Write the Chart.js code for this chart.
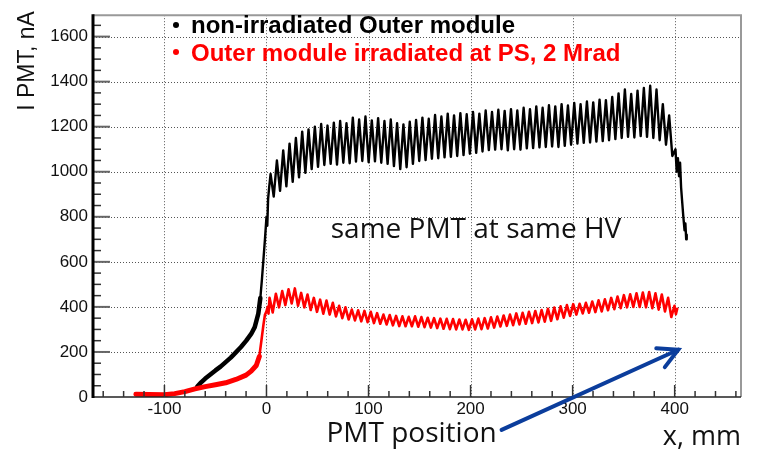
<!DOCTYPE html>
<html>
<head>
<meta charset="utf-8">
<script src="https://cdn.jsdelivr.net/npm/chart.js@4.4.1/dist/chart.umd.min.js"></script>
<style>
  body { margin: 0; background: #fff; }
  #wrap { width: 757px; height: 449px; position: relative; }
</style>
</head>
<body>
<div id="wrap"><canvas id="chart"></canvas></div>
<script>
// ---- data (x in mm, I in nA) ----
const xTicks = [-100, 0, 100, 200, 300, 400];
const yTicks = [0, 200, 400, 600, 800, 1000, 1200, 1400, 1600];

const seriesNames = ["non-irradiated Outer module", "Outer module irradiated at PS, 2 Mrad"];

// sampling step of the oscillating plateau (peak / trough alternate)
const plateauStep = 3.1;

// black: non-irradiated
const blackRiseX = [-68, -64, -60, -55, -50, -45, -40, -35, -30, -25, -20, -15, -11.5, -8, -6, -4.5, -3, -1.5, 0, 0.8, 1.6, 2.6];
const blackRiseY = [45, 65, 82, 100, 118, 135, 155, 175, 198, 222, 249, 280, 310, 370, 440, 520, 610, 700, 800, 760, 880, 930];
const blackPlateauStart = 4.0;
const blackPlateauY = [
  990, 890, 1050, 915, 1095, 935, 1125, 955, 1150, 975,
  1178, 995, 1188, 1012, 1200, 1022, 1212, 1030, 1205, 1035,
  1218, 1032, 1225, 1040, 1215, 1038, 1240, 1045, 1232, 1048,
  1245, 1042, 1228, 1046, 1238, 1040, 1225, 1035, 1232, 1025,
  1215, 1012, 1210, 1020, 1222, 1035, 1230, 1048, 1240, 1052,
  1235, 1058, 1252, 1060, 1245, 1064, 1258, 1066, 1250, 1070,
  1260, 1074, 1255, 1080, 1265, 1084, 1258, 1090, 1272, 1096,
  1265, 1098, 1275, 1100, 1270, 1095, 1278, 1100, 1272, 1098,
  1284, 1104, 1278, 1105, 1290, 1108, 1284, 1110, 1295, 1112,
  1290, 1110, 1300, 1115, 1294, 1120, 1305, 1125, 1300, 1128,
  1312, 1130, 1308, 1134, 1320, 1136, 1318, 1140, 1332, 1145,
  1348, 1150, 1365, 1155, 1345, 1152, 1360, 1158, 1372, 1155,
  1382, 1150, 1365, 1140, 1300, 1120, 1250, 1070, 1100
];
const blackTailX = [402, 403.2, 404.3, 405.3, 406.3, 407.3, 408.5, 409.7, 410.5, 411.3, 411.8];
const blackTailY = [1000, 1060, 980, 1040, 930, 870, 800, 740, 770, 700, 720];

// red: irradiated at PS
const redRiseX = [-128, -115, -100, -90, -80, -70, -60, -50, -40, -30, -20, -15, -10, -7, -5, -3, -1.5, 0, 1.2, 2];
const redRiseY = [12, 11, 10, 15, 24, 36, 46, 54, 63, 78, 97, 115, 140, 180, 249, 320, 365, 380, 400, 370];
const redPlateauStart = 3.0;
const redPlateauY = [
  440, 375, 458, 398, 470, 408, 478, 415, 482, 405,
  462, 398, 455, 386, 440, 378, 432, 370, 428, 366,
  418, 358, 405, 350, 398, 344, 388, 340, 385, 336,
  382, 332, 378, 328, 372, 325, 366, 322, 364, 318,
  360, 315, 358, 314, 356, 314, 358, 312, 355, 310,
  352, 308, 350, 306, 348, 303, 347, 301, 346, 300,
  344, 300, 343, 298, 345, 300, 348, 301, 350, 304,
  354, 308, 357, 313, 362, 316, 366, 319, 371, 322,
  374, 325, 378, 328, 382, 331, 386, 334, 392, 338,
  397, 345, 403, 352, 408, 360, 412, 366, 414, 371,
  418, 374, 424, 377, 429, 380, 434, 385, 440, 390,
  446, 394, 452, 398, 456, 400, 460, 400, 464, 398,
  466, 394, 460, 388, 455, 380, 440, 355, 405
];
const redTailX = [401.2, 402.5];
const redTailY = [368, 392];

function buildPoints(riseX, riseY, start, plateauY, tailX, tailY) {
  const pts = riseX.map((x, i) => ({ x, y: riseY[i] }));
  plateauY.forEach((y, i) => pts.push({ x: start + plateauStep * i, y }));
  tailX.forEach((x, i) => pts.push({ x, y: tailY[i] }));
  return pts;
}

// the noisy rising edge shows up as a thicker band
const noisyWidth = (thin, thick) => c => (c.p1.parsed.x < -5 ? thick : thin);

const FONT = "'Liberation Sans', Arial, Helvetica, sans-serif";
const TEXT_FONT = "'Open Sans', 'Noto Sans', sans-serif";

// grid, frame, inward ticks, legend and annotations, ROOT style
const rootStyle = {
  id: 'rootStyle',
  beforeDatasetsDraw(chart) {
    const { ctx, chartArea: a, scales: { x, y } } = chart;
    ctx.save();
    ctx.strokeStyle = '#555';
    ctx.lineWidth = 1;
    ctx.setLineDash([1, 2]);
    xTicks.forEach(v => {
      const px = Math.round(x.getPixelForValue(v)) + 0.5;
      ctx.beginPath(); ctx.moveTo(px, a.top); ctx.lineTo(px, a.bottom); ctx.stroke();
    });
    yTicks.forEach(v => {
      if (v === 0) return;
      const py = Math.round(y.getPixelForValue(v)) + 0.5;
      ctx.beginPath(); ctx.moveTo(a.left, py); ctx.lineTo(a.right, py); ctx.stroke();
    });
    ctx.restore();
  },
  afterDatasetsDraw(chart) {
    const { ctx, chartArea: a, scales: { x, y } } = chart;
    ctx.save();

    // frame
    ctx.strokeStyle = '#999';
    ctx.lineWidth = 2;
    ctx.beginPath();
    ctx.moveTo(a.left, a.top); ctx.lineTo(a.right, a.top); ctx.lineTo(a.right, a.bottom);
    ctx.stroke();
    ctx.strokeStyle = '#222';
    ctx.lineWidth = 1.5;
    ctx.beginPath(); ctx.moveTo(a.left, a.bottom); ctx.lineTo(a.right, a.bottom); ctx.stroke();

    // ticks (inside the frame)
    ctx.strokeStyle = '#333';
    ctx.lineWidth = 1.5;
    for (let v = -160; v <= 460; v += 20) {
      const px = x.getPixelForValue(v);
      if (px < a.left + 2 || px > a.right - 2) continue;
      const len = v % 100 === 0 ? 12 : 6;
      ctx.beginPath(); ctx.moveTo(px, a.bottom); ctx.lineTo(px, a.bottom - len); ctx.stroke();
    }
    for (let v = 50; v <= 1650; v += 50) {
      const py = y.getPixelForValue(v);
      const len = v % 200 === 0 ? 17 : 8;
      ctx.strokeStyle = v % 200 === 0 ? '#666' : '#333';
      ctx.lineWidth = v % 200 === 0 ? 2 : 1.5;
      ctx.beginPath(); ctx.moveTo(a.left, py); ctx.lineTo(a.left + len, py); ctx.stroke();
    }
    ctx.strokeStyle = '#000';
    ctx.lineWidth = 3;
    ctx.beginPath(); ctx.moveTo(a.left, a.top - 1); ctx.lineTo(a.left, a.bottom + 1); ctx.stroke();

    // y title
    ctx.save();
    ctx.translate(33.5, 61);
    ctx.rotate(-Math.PI / 2);
    ctx.font = `23px ${FONT}`;
    ctx.fillStyle = '#111';
    ctx.textAlign = 'center';
    ctx.textBaseline = 'alphabetic';
    ctx.fillText('I PMT, nA', 0, 0);
    ctx.restore();

    // legend
    const legend = [
      { color: '#000', dotY: 25, textY: 33 },
      { color: '#ff0000', dotY: 52, textY: 60.5 }
    ];
    ctx.font = `bold 24px ${FONT}`;
    ctx.textAlign = 'left';
    ctx.textBaseline = 'alphabetic';
    legend.forEach((l, i) => {
      ctx.fillStyle = l.color;
      ctx.beginPath(); ctx.arc(176, l.dotY, 3, 0, Math.PI * 2); ctx.fill();
      ctx.fillText(seriesNames[i], 191, l.textY);
    });

    // annotations
    ctx.fillStyle = '#111';
    ctx.font = `28px ${TEXT_FONT}`;
    ctx.fillText('same PMT at same HV', x.getPixelForValue(63), y.getPixelForValue(706));
    ctx.fillText('PMT position', x.getPixelForValue(58.8), y.getPixelForValue(-200));
    ctx.font = `27px ${TEXT_FONT}`;
    ctx.textAlign = 'right';
    ctx.fillText('x, mm', a.right, 445);

    // arrow
    const sx = x.getPixelForValue(230.4), sy = y.getPixelForValue(-146);
    const tx = x.getPixelForValue(403.5), ty = y.getPixelForValue(210);
    const ang = Math.atan2(sy - ty, sx - tx);
    const head = 22, spread = 28 * Math.PI / 180;
    ctx.strokeStyle = '#0b3d9c';
    ctx.lineWidth = 4;
    ctx.lineCap = 'round';
    ctx.beginPath(); ctx.moveTo(sx, sy); ctx.lineTo(tx, ty); ctx.stroke();
    ctx.beginPath();
    ctx.moveTo(tx + head * Math.cos(ang - spread), ty + head * Math.sin(ang - spread));
    ctx.lineTo(tx, ty);
    ctx.lineTo(tx + head * Math.cos(ang + spread), ty + head * Math.sin(ang + spread));
    ctx.stroke();

    ctx.restore();
  }
};

const ctx = document.querySelector('#chart').getContext('2d');
const chart = new Chart(ctx, {
  type: 'scatter',
  data: {
    datasets: [{
      label: seriesNames[1],
      data: buildPoints(redRiseX, redRiseY, redPlateauStart, redPlateauY, redTailX, redTailY),
      borderColor: '#ff0000',
      borderWidth: 2.6,
      borderCapStyle: 'round',
      borderJoinStyle: 'round',
      segment: { borderWidth: noisyWidth(2.6, 5) },
      showLine: true,
      pointRadius: 0,
      tension: 0,
      order: 0
    }, {
      label: seriesNames[0],
      data: buildPoints(blackRiseX, blackRiseY, blackPlateauStart, blackPlateauY, blackTailX, blackTailY),
      borderColor: '#000',
      borderWidth: 2.4,
      borderCapStyle: 'round',
      borderJoinStyle: 'round',
      segment: { borderWidth: noisyWidth(2.4, 4.5) },
      showLine: true,
      pointRadius: 0,
      tension: 0,
      order: 1
    }]
  },
  options: {
    responsive: true,
    maintainAspectRatio: false,
    animation: false,
    layout: { padding: { top: 7, right: 16, left: 0, bottom: 0 } },
    plugins: { legend: { display: false }, tooltip: { enabled: false } },
    scales: {
      x: {
        type: 'linear',
        min: -170,
        max: 465,
        grid: { display: false, drawTicks: false },
        border: { display: false },
        afterBuildTicks: s => { s.ticks = xTicks.map(v => ({ value: v })); },
        afterFit: s => { s.height = 52; },
        ticks: { color: '#111', padding: 2, maxRotation: 0, callback: v => String(v), font: { family: FONT, size: 17 } }
      },
      y: {
        type: 'linear',
        min: 0,
        max: 1695,
        grid: { display: false, drawTicks: false },
        border: { display: false },
        afterBuildTicks: s => { s.ticks = yTicks.map(v => ({ value: v })); },
        afterFit: s => { s.width = 93; },
        ticks: { color: '#111', padding: 5, callback: v => String(v), font: { family: FONT, size: 17 } }
      }
    }
  },
  plugins: [rootStyle]
});
</script>
</body>
</html>
